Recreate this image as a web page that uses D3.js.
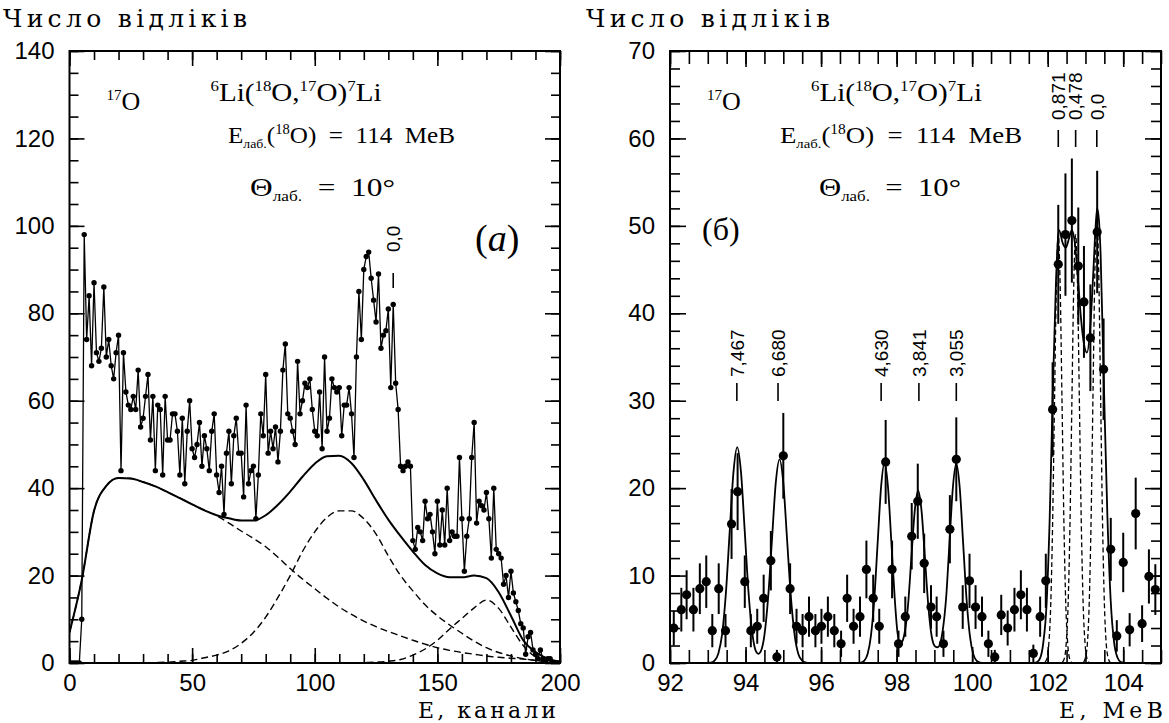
<!DOCTYPE html>
<html><head><meta charset="utf-8">
<script src="https://cdn.jsdelivr.net/npm/d3@7"></script>
<style>body{margin:0;background:#fff}svg{display:block}text{white-space:pre}</style>
</head><body>
<svg id="c" width="1169" height="723"></svg>
<script>
// ---------- LEFT PANEL DATA (counts per channel 0..200) ----------
const leftCounts = [
0,0,0,0,0,10,98,74,84,68,
87,71,69,72,86,70,74,68,65,71,
75,44,71,62,59,58,61,58,67,54,
56,61,66,51,61,44,59,58,43,61,
51,51,57,57,53,43,56,41,53,60,
49,47,50,55,45,52,49,44,53,57,
43,39,45,34,48,53,41,52,56,48,
48,38,59,41,44,45,33,43,57,52,
66,48,53,49,54,46,53,67,73,57,
56,53,50,69,57,60,64,63,65,58,
53,52,62,49,70,53,56,65,63,62,
63,52,59,59,63,57,47,70,85,74,
90,93,94,88,83,78,89,72,75,76,
81,63,82,64,58,45,44,45,46,45,
28,26,31,30,28,37,33,34,30,25,
37,27,35,27,40,28,30,29,29,47,
33,21,29,33,47,55,32,37,36,35,
39,33,24,40,26,25,24,18,20,15,
21,16,14,12,9,8,2,6,7,3,
2,1,3,1,0,1,1,0,0,0,
0];
const leftChannels = d3.range(0, leftCounts.length);

// fit curves, read every 5 channels
const leftFitX = d3.range(0, 201, 5);
const leftTotal = [7,19,34.8,40.5,42.3,42.2,41.4,40.4,39.1,37.7,36.3,34.9,33.8,33.1,32.6,32.6,33.8,36.2,39.2,42.6,45.6,47.3,47.4,45.7,41.9,37.2,32.8,29,25.5,22.4,20.5,19.6,19.6,20,19.4,16.2,10.8,5.2,2.5,1,0.3];
const leftBackground = [7,19,34.8,40.5,42.3,42.2,41.4,40.4,39.1,37.7,36.3,35,33.7,32,30.2,28.5,26.6,24.2,21.6,19.2,17,14.8,12.8,11.1,9.6,8.3,7.2,6.2,5.2,4.3,3.5,2.9,2.4,2,1.6,1.3,1.1,0.9,0.6,0.4,0.2];
const leftPeakA = [0,0,0,0,0,0,0,0.1,0.2,0.4,0.6,1.2,1.8,2.8,4.5,7,10.5,15,20,25.5,30,33.3,34.8,34.8,33,29.5,24.5,20,16.5,13.3,10.8,8.7,6.8,5,3.5,2.4,1.6,1,0.6,0.3,0.1];
const leftPeakB = [0,0,0,0,0,0,0,0,0,0,0,0,0,0,0,0,0,0,0,0,0,0,0,0,0.1,0.2,0.4,0.8,1.8,3.2,5.2,7.8,10.2,12.6,14.4,12.5,8.2,4,1.4,0.4,0.1];
const leftMarks = [{x:132, label:"0,0"}];

const leftXMajor = [0,50,100,150,200];
const leftXMinor = d3.range(0,201,10);
const leftYMajor = [0,20,40,60,80,100,120,140];
const leftYMinor = d3.range(0,141,5);

// ---------- RIGHT PANEL DATA ----------
const rightE = [92.10,92.30,92.44,92.62,92.79,92.96,93.12,93.29,93.47,93.63,
93.79,93.98,94.14,94.31,94.48,94.67,94.83,95.00,95.18,95.35,
95.51,95.68,95.85,96.01,96.18,96.35,96.53,96.69,96.86,97.03,
97.20,97.38,97.54,97.71,97.88,98.05,98.23,98.40,98.56,98.73,
98.91,99.06,99.24,99.41,99.58,99.75,99.93,100.09,100.26,100.43,
100.60,100.77,100.94,101.12,101.29,101.45,101.62,101.80,101.95,102.13,
102.28,102.47,102.64,102.81,102.96,103.13,103.31,103.48,103.67,103.83,
104.00,104.17,104.33,104.50,104.68,104.85];
const rightCounts = [4.0,6.1,7.8,6.1,8.5,9.3,3.7,8.5,3.7,15.9,
19.6,9.3,3.7,4.2,7.4,11.7,0.7,23.7,8.5,4.2,
3.7,5.3,3.7,4.2,5.3,3.7,2.2,7.4,4.2,5.3,
10.7,7.4,4.2,23.0,10.7,2.2,5.3,14.5,18.5,11.4,
6.4,5.3,2.2,15.3,23.3,6.4,9.4,6.4,5.3,2.2,
0.7,5.5,4.0,6.1,7.8,6.1,1.1,5.3,9.4,29.0,
45.6,49.0,50.6,45.4,41.3,37.2,49.3,33.6,13.0,3.1,
11.5,3.8,17.1,4.5,9.9,8.4];
const rightErrors = [2.0,2.5,2.8,2.5,2.9,3.0,1.9,2.9,1.9,4.0,
4.4,3.0,1.9,2.0,2.7,3.4,0.8,4.9,2.9,2.0,
1.9,2.3,1.9,2.0,2.3,1.9,1.5,2.7,2.0,2.3,
3.3,2.7,2.0,4.8,3.3,1.5,2.3,3.8,4.3,3.4,
2.5,2.3,1.5,3.9,4.8,2.5,3.1,2.5,2.3,1.5,
0.8,2.3,2.0,2.5,2.8,2.5,1.0,2.3,3.1,5.4,
6.8,7.0,7.1,6.7,6.4,6.1,7.0,5.8,3.6,1.8,
3.4,1.9,4.1,2.1,3.1,2.9];

// total fit (E, counts)
const rightFitE = [92.0,92.9,93.08,93.18,93.28,93.38,93.48,93.58,93.68,93.78,93.88,93.98,94.08,94.18,94.28,94.34,94.40,94.50,94.60,94.70,94.80,94.90,95.00,95.10,95.20,95.30,95.40,95.50,95.60,95.70,
96.90,97.05,97.14,97.23,97.32,97.41,97.50,97.59,97.68,97.77,97.86,97.95,98.02,98.08,98.14,98.21,98.30,98.39,98.48,98.57,98.66,98.75,98.84,98.93,99.02,99.09,99.15,99.22,99.31,99.40,99.49,99.58,99.67,99.76,99.85,99.94,100.03,100.12,100.21,100.30,
101.40,101.64,101.72,101.80,101.88,101.97,102.05,102.13,102.22,102.30,102.40,102.48,102.56,102.64,102.72,102.80,102.88,102.96,103.04,103.12,103.20,103.27,103.31,103.36,103.40,103.49,103.58,103.67,103.76,103.85,103.94,104.05,105.0];
const rightFitY = [0,0,0.05,0.27,1.1,3.3,8.0,15.0,21.8,24.7,21.8,15.0,8.0,3.4,1.3,1.05,1.3,3.2,7.6,14.1,20.6,23.3,20.6,14.1,7.6,3.2,1.0,0.26,0.05,0,
0,0.05,0.25,1.0,3.1,7.4,13.9,20.2,22.9,20.2,13.9,7.4,3.6,2.3,2.4,3.4,6.5,12.0,17.4,19.7,17.4,12.0,6.5,3.0,1.9,1.8,2.2,3.7,7.4,13.8,20.1,22.8,20.1,13.8,7.4,3.1,1.0,0.25,0.05,0,
0,0.02,0.11,0.55,2.2,6.7,16.1,30,43.7,49.5,48,47.5,48.5,49.5,48,44,39.5,36.5,35.5,38,44,50,52,50.5,46.9,31.5,16.9,7.0,2.3,0.6,0.1,0,0];

// individual components of the ground-state group (dashed)
const compE1 = [101.93,101.98,102.03,102.08,102.13,102.18,102.23,102.28,102.33,102.38,102.43,102.48,102.53,102.58,102.63];
const compY1 = [0.1,0.5,2.2,6.6,15.9,29.7,43.2,49,43.2,29.7,15.9,6.6,2.2,0.5,0.1];
const compE2 = [102.39,102.44,102.49,102.54,102.59,102.64,102.69,102.74,102.79,102.84,102.89,102.94,102.99,103.04,103.09];
const compY2 = [0.1,0.5,2.2,6.6,15.9,29.7,43.2,49,43.2,29.7,15.9,6.6,2.2,0.5,0.1];
const compE3 = [102.95,103.00,103.05,103.10,103.15,103.20,103.25,103.30,103.35,103.40,103.45,103.50,103.55,103.60,103.65];
const compY3 = [0.1,0.6,2.2,6.9,16.6,30.9,45,51,45,30.9,16.6,6.9,2.2,0.6,0.1];

const rightLowMarks = [{e:93.77,label:"7,467"},{e:94.86,label:"6,680"},{e:97.59,label:"4,630"},{e:98.59,label:"3,841"},{e:99.58,label:"3,055"}];
const rightTopMarks = [{e:102.28,label:"0,871"},{e:102.74,label:"0,478"},{e:103.30,label:"0,0"}];

const rightXMajor = [92,94,96,98,100,102,104];
const rightXMinor = d3.range(92,105.01,0.5);
const rightYMajor = [0,10,20,30,40,50,60,70];
const rightYMinor = d3.range(0,70.01,2);

// ---------- DRAWING ----------
const svg = d3.select('#c');
const xL = d3.scaleLinear().domain([0,200]).range([69.5,560]);
const yL = d3.scaleLinear().domain([0,140]).range([663,51]);
const xR = d3.scaleLinear().domain([92,105]).range([670,1161]);
const yR = d3.scaleLinear().domain([0,70]).range([663,51]);

const TICKFONT = 'Liberation Sans';
function drawAxes(x, y, c){
  const g = svg.append('g');
  const [x0,x1] = x.range(), [y0,y1] = y.range();
  const mk = (axis, tr) => g.append('g').attr('transform', tr).call(axis).call(s => s.select('.domain').remove());
  mk(d3.axisBottom(x).tickValues(c.xMinor).tickSize(-c.xMinLen).tickFormat(''), `translate(0,${y0})`);
  mk(d3.axisBottom(x).tickValues(c.xMajor).tickSize(-c.xMajLen).tickPadding(11).tickFormat(d3.format('d')), `translate(0,${y0})`);
  mk(d3.axisTop(x).tickValues(c.xMinor).tickSize(-c.xMinLen).tickFormat(''), `translate(0,${y1})`);
  mk(d3.axisTop(x).tickValues(c.xMajor).tickSize(-c.xMajLen).tickFormat(''), `translate(0,${y1})`);
  mk(d3.axisLeft(y).tickValues(c.yMinor).tickSize(-c.yMinLen).tickFormat(''), `translate(${x0},0)`);
  mk(d3.axisLeft(y).tickValues(c.yMajor).tickSize(-c.yMajLen).tickPadding(15).tickFormat(d3.format('d')), `translate(${x0},0)`);
  mk(d3.axisRight(y).tickValues(c.yMinor).tickSize(-c.yMinLen).tickFormat(''), `translate(${x1},0)`);
  mk(d3.axisRight(y).tickValues(c.yMajor).tickSize(-c.yMajLen).tickFormat(''), `translate(${x1},0)`);
  g.selectAll('.tick line').attr('stroke','#000').attr('stroke-width',1.6);
  g.selectAll('.tick text').attr('font-family',TICKFONT).attr('font-size',24).attr('fill','#000');
  g.append('rect').attr('x',x0).attr('y',y1).attr('width',x1-x0).attr('height',y0-y1)
    .attr('fill','none').attr('stroke','#000').attr('stroke-width',2);
}
drawAxes(xL, yL, {xMajor:leftXMajor, xMinor:leftXMinor, yMajor:leftYMajor, yMinor:leftYMinor, xMinLen:9, xMajLen:15, yMinLen:9, yMajLen:15});
drawAxes(xR, yR, {xMajor:rightXMajor, xMinor:rightXMinor, yMajor:rightYMajor, yMinor:rightYMinor, xMinLen:13, xMajLen:16, yMinLen:10, yMajLen:16});

// clip paths
const defs = svg.append('defs');
defs.append('clipPath').attr('id','clipL').append('rect').attr('x',69.5).attr('y',51).attr('width',490.5).attr('height',612);
defs.append('clipPath').attr('id','clipR').append('rect').attr('x',670).attr('y',51).attr('width',491).attr('height',612);

// ---- left panel marks
const gl = svg.append('g').attr('clip-path','url(#clipL)');
const lineL = (ys) => d3.line().x((d,i)=>xL(leftFitX[i])).y(d=>yL(d)).curve(d3.curveMonotoneX)(ys);
gl.append('path').attr('d', lineL(leftBackground)).attr('fill','none').attr('stroke','#000').attr('stroke-width',1.4).attr('stroke-dasharray','7,4');
gl.append('path').attr('d', lineL(leftPeakA)).attr('fill','none').attr('stroke','#000').attr('stroke-width',1.4).attr('stroke-dasharray','7,4');
gl.append('path').attr('d', lineL(leftPeakB)).attr('fill','none').attr('stroke','#000').attr('stroke-width',1.4).attr('stroke-dasharray','7,4');
gl.append('path').attr('d', lineL(leftTotal)).attr('fill','none').attr('stroke','#000').attr('stroke-width',2);
gl.append('path').attr('d', d3.line().x((d,i)=>xL(leftChannels[i])).y(d=>yL(d))(leftCounts))
  .attr('fill','none').attr('stroke','#000').attr('stroke-width',1.3);
gl.selectAll('circle').data(leftCounts).join('circle')
  .attr('cx',(d,i)=>xL(leftChannels[i])).attr('cy',d=>yL(d)).attr('r',2.7).attr('fill','#000');

// ---- right panel marks
const gr = svg.append('g').attr('clip-path','url(#clipR)');
const lineR = (xs, ys) => d3.line().x((d,i)=>xR(xs[i])).y(d=>yR(d)).curve(d3.curveMonotoneX)(ys);
[[compE1,compY1],[compE2,compY2],[compE3,compY3]].forEach(([xs,ys])=>{
  gr.append('path').attr('d', lineR(xs,ys)).attr('fill','none').attr('stroke','#000').attr('stroke-width',1.3).attr('stroke-dasharray','5,3');
});
gr.append('path').attr('d', lineR(rightFitE,rightFitY)).attr('fill','none').attr('stroke','#000').attr('stroke-width',1.8);
gr.selectAll('line.err').data(rightCounts).join('line').attr('class','err')
  .attr('x1',(d,i)=>xR(rightE[i])).attr('x2',(d,i)=>xR(rightE[i]))
  .attr('y1',(d,i)=>yR(d-rightErrors[i])).attr('y2',(d,i)=>yR(d+rightErrors[i]))
  .attr('stroke','#000').attr('stroke-width',2);
gr.selectAll('circle').data(rightCounts).join('circle')
  .attr('cx',(d,i)=>xR(rightE[i])).attr('cy',d=>yR(d)).attr('r',4.6).attr('fill','#000');

// ---- text
const MONO = 'DejaVu Serif', SERIF = 'Liberation Serif';
function txt(x,y,s,o={}){
  const t = svg.append('text').attr('x',x).attr('y',y).attr('font-family',o.font||MONO)
    .attr('font-size',o.size||26).attr('fill','#000').text(s);
  if(o.anchor) t.attr('text-anchor',o.anchor);
  if(o.len) t.attr('textLength',o.len).attr('lengthAdjust','spacing');
  if(o.weight) t.attr('font-weight',o.weight);
  return t;
}
txt(3,27,'Число відліків',{size:25,len:244});
txt(586,27,'Число відліків',{size:25,len:244});
txt(556,718,'E, канали',{size:22,anchor:'end',len:138});
txt(1163,718,'E, MeB',{size:22,anchor:'end',len:104});

function rich(x,y,parts,size,len){
  const t = svg.append('text').attr('x',x).attr('y',y).attr('font-family',SERIF).attr('font-size',size).attr('fill','#000');
  parts.forEach(p=>{
    const ts = t.append('tspan').text(p.t);
    if(p.sup){ ts.attr('font-size',size*0.58).attr('dy',-size*0.38); }
    else if(p.sub){ ts.attr('font-size',size*0.55).attr('dy',size*0.2); }
    if(p.back) ts.attr('dy', p.back);
    if(p.it) ts.attr('font-style','italic');
  });
  if(len) t.attr('textLength',len).attr('lengthAdjust','spacingAndGlyphs');
  return t;
}
function panelText(ox, eX, eLen, thX, thLen){
  rich(ox+37,110,[{t:'17',sup:true},{t:'O',back:26*0.38}],26);
  rich(ox+141,101,[{t:'6',sup:true},{t:'Li(',back:26*0.38},{t:'18',sup:true},{t:'O,',back:26*0.38},{t:'17',sup:true},{t:'O)',back:26*0.38},{t:'7',sup:true},{t:'Li',back:26*0.38}],26,171);
  rich(eX,143,[{t:'E'},{t:'лаб.',sub:true},{t:'(',back:-24*0.2},{t:'18',sup:true},{t:'O)  =  114  MeB',back:24*0.38}],24,eLen);
  rich(thX,196,[{t:'Θ'},{t:'лаб.',sub:true},{t:'  =  10°',back:-26*0.2}],26,thLen);
}
panelText(69.5, 228, 227, 250, 145);
panelText(670, 780, 242, 819, 142);

rich(475,251,[{t:'('},{t:'а',it:true},{t:')'}],38);
rich(702,240,[{t:'(б)'}],32);

// rotated level labels
function levelLabel(x, yText, y1, y2, s){
  svg.append('line').attr('x1',x).attr('x2',x).attr('y1',y1).attr('y2',y2).attr('stroke','#000').attr('stroke-width',1.6);
  svg.append('text').attr('transform',`translate(${x},${yText}) rotate(-90)`).attr('dy','0.36em')
    .attr('font-family',TICKFONT).attr('font-size',19).attr('fill','#000').text(s);
}
leftMarks.forEach(m=>levelLabel(xL(m.x), 252, 273, 288, m.label));
rightLowMarks.forEach(m=>levelLabel(xR(m.e), 377, 383, 401, m.label));
rightTopMarks.forEach(m=>levelLabel(xR(m.e), 120, 130, 147, m.label));
</script>
</body></html>
